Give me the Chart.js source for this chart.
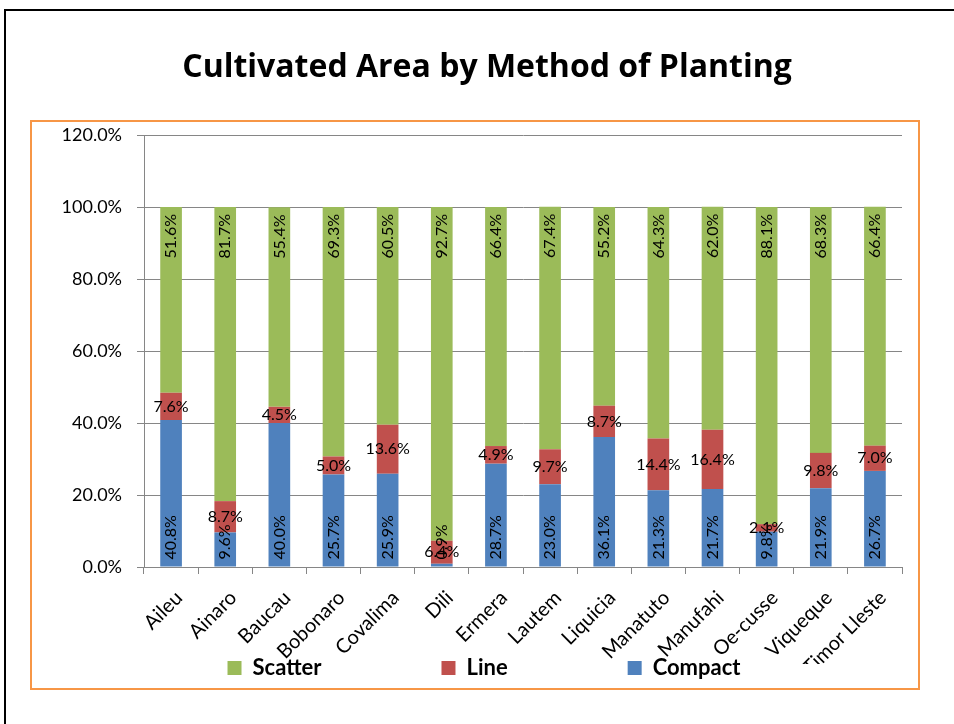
<!DOCTYPE html>
<html>
<head>
<meta charset="utf-8">
<script src="https://cdn.jsdelivr.net/npm/chart.js@4/dist/chart.umd.min.js"></script>
<style>
  html, body { margin: 0; padding: 0; background: #ffffff; width: 954px; height: 724px; overflow: hidden; }
  #outer { position: absolute; left: 4px; top: 9px; width: 980px; height: 760px; border: 2px solid #000; box-sizing: border-box; }
  #frame { position: absolute; left: 30px; top: 120px; width: 890px; height: 570px; border: 2.5px solid #F79646; box-sizing: border-box; }
  #c { position: absolute; left: 0; top: 0; }
</style>
</head>
<body>
<div id="outer"></div>
<div id="frame"></div>
<canvas id="c" width="954" height="724"></canvas>
<script>
// ---- data (percent of cultivated area) ----
const categories = ['Aileu','Ainaro','Baucau','Bobonaro','Covalima','Dili','Ermera','Lautem','Liquicia','Manatuto','Manufahi','Oe-cusse','Viqueque','Timor Lleste'];
const compact = [40.8, 9.6, 40.0, 25.7, 25.9, 0.9, 28.7, 23.0, 36.1, 21.3, 21.7, 9.8, 21.9, 26.7];
const lineVals = [7.6, 8.7, 4.5, 5.0, 13.6, 6.4, 4.9, 9.7, 8.7, 14.4, 16.4, 2.1, 9.8, 7.0];
const scatter = [51.6, 81.7, 55.4, 69.3, 60.5, 92.7, 66.4, 67.4, 55.2, 64.3, 62.0, 88.1, 68.3, 66.4];
const yTickValues = [0, 20, 40, 60, 80, 100, 120];
const seriesNames = ['Compact', 'Line', 'Scatter'];

const FONT = 'Lato, "Open Sans", sans-serif';
const GRID = '#868686';
Chart.defaults.color = '#000';
Chart.defaults.font.family = FONT;

const labelPlugin = {
  id: 'segLabels',
  afterLayout(chart) {
    const tb = chart.titleBlock;
    if (tb) { tb.left += 16; tb.right += 16; }
    const lg = chart.legend;
    if (!lg) return;
    const pad = lg.options.labels.padding;
    const ih = lg.options.labels.font.size;
    const top = 668 - ih / 2 - pad;
    const dx = 13;
    lg.top = top; lg.bottom = top + pad + ih + 12;
    lg.left += dx; lg.right += dx;
  },
  afterDatasetsDraw(chart) {
    const ctx = chart.ctx;
    ctx.save();
    ctx.font = '16px ' + FONT;
    ctx.fillStyle = '#000';
    chart.data.datasets.forEach((ds, di) => {
      const meta = chart.getDatasetMeta(di);
      meta.data.forEach((bar, i) => {
        const txt = ds.data[i].toFixed(1) + '%';
        const p = bar.getProps(['x', 'y', 'base'], true);
        if (ds.labelPos === 'center') {
          ctx.textAlign = 'center';
          ctx.textBaseline = 'middle';
          ctx.fillText(txt, p.x, (p.y + p.base) / 2);
        } else if (ds.labelPos === 'base') {
          ctx.save();
          ctx.translate(p.x, p.base - 7);
          ctx.rotate(-Math.PI / 2);
          ctx.textAlign = 'left';
          ctx.textBaseline = 'middle';
          ctx.fillText(txt, 0, 0);
          ctx.restore();
        } else {
          ctx.save();
          ctx.translate(p.x, p.y + 7);
          ctx.rotate(-Math.PI / 2);
          ctx.textAlign = 'right';
          ctx.textBaseline = 'middle';
          ctx.fillText(txt, 0, 0);
          ctx.restore();
        }
      });
    });
    ctx.restore();
  }
};

new Chart(document.getElementById('c'), {
  type: 'bar',
  data: {
    labels: categories,
    datasets: [
      { label: seriesNames[0], data: compact, backgroundColor: '#4F81BD', labelPos: 'base' },
      { label: seriesNames[1], data: lineVals, backgroundColor: '#C0504D', labelPos: 'center' },
      { label: seriesNames[2], data: scatter, backgroundColor: '#9BBB59', labelPos: 'end' }
    ]
  },
  options: {
    responsive: false,
    animation: false,
    devicePixelRatio: 1,
    datasets: { bar: { barPercentage: 0.4, categoryPercentage: 1.0, borderWidth: 0 } },
    layout: { padding: { left: 40, right: 52, top: 20, bottom: 20 } },
    plugins: {
      title: {
        display: true,
        text: 'Cultivated Area by Method of Planting',
        font: { family: '"Open Sans", Lato, sans-serif', size: 32, weight: 'bold' },
        color: '#000',
        padding: { top: 29, bottom: 47.6 }
      },
      legend: {
        position: 'bottom',
        reverse: true,
        maxHeight: 40,
        labels: {
          boxWidth: 14,
          boxHeight: 14,
          padding: 120,
          font: { family: FONT, size: 22, weight: 'bold' },
          color: '#000'
        }
      },
      tooltip: { enabled: false }
    },
    scales: {
      x: {
        stacked: true,
        afterFit(scale) { scale.height = 97; },
        grid: { display: true, drawOnChartArea: false, drawTicks: true, tickLength: 7, color: GRID, offset: true },
        border: { display: true, color: GRID },
        ticks: { autoSkip: false, minRotation: 45, maxRotation: 45, labelOffset: 8, font: { family: FONT, size: 20 }, color: '#000', padding: 12 }
      },
      y: {
        stacked: true,
        min: 0,
        max: 120,
        afterFit(scale) { scale.width = 104; },
        afterBuildTicks(scale) { scale.ticks = yTickValues.map(v => ({ value: v })); },
        grid: { color: GRID, tickLength: 7, drawTicks: true },
        border: { display: true, color: GRID },
        ticks: { font: { family: FONT, size: 18 }, color: '#000', padding: 15, callback: v => v.toFixed(1) + '%' }
      }
    }
  },
  plugins: [labelPlugin]
});
</script>
</body>
</html>
